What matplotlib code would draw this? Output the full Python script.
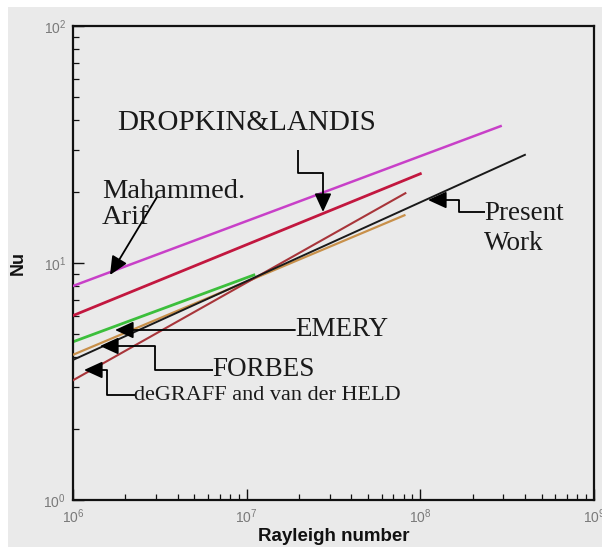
import matplotlib
matplotlib.use('Agg')
import matplotlib.pyplot as plt
from matplotlib.patches import Rectangle

# ---- data (Rayleigh number vs Nusselt number) ----
arif_ra = [1e6, 2.9e8]
arif_nu = [8.0, 37.8]
dropkin_ra = [1e6, 1.0e8]
dropkin_nu = [6.0, 23.8]
emery_ra = [1e6, 1.1e7]
emery_nu = [4.65, 8.9]
forbes_ra = [1e6, 8.1e7]
forbes_nu = [4.1, 15.9]
degraff_ra = [1e6, 8.2e7]
degraff_nu = [3.2, 19.7]
present_ra = [1e6, 4.0e8]
present_nu = [3.9, 28.6]

W, H = 602, 547
fig = plt.figure(figsize=(W / 100, H / 100), dpi=100)
fig.patch.set_facecolor('white')
fig.add_artist(Rectangle((8 / W, 0), 1, 1 - 7 / H, transform=fig.transFigure,
                         facecolor='#eaeaea', edgecolor='none', zorder=-10))

AX_L, AX_R, AX_T, AX_B = 73, 594, 26, 500
ax = fig.add_axes([AX_L / W, (H - AX_B) / H, (AX_R - AX_L) / W, (AX_B - AX_T) / H])
ax.set_facecolor('#eaeaea')
ax.set_xscale('log')
ax.set_yscale('log')
ax.set_xlim(1e6, 1e9)
ax.set_ylim(1, 100)

ax.plot(emery_ra, emery_nu, color='#3cbf3c', lw=2.0, zorder=2)
ax.plot(forbes_ra, forbes_nu, color='#c8904a', lw=1.6, zorder=3)
ax.plot(present_ra, present_nu, color='#1a1a1a', lw=1.4, zorder=4)
ax.plot(degraff_ra, degraff_nu, color='#a8353a', lw=1.5, zorder=3)
ax.plot(dropkin_ra, dropkin_nu, color='#c2173f', lw=2.0, zorder=3)
ax.plot(arif_ra, arif_nu, color='#c840c8', lw=1.8, zorder=3)

for s in ax.spines.values():
    s.set_linewidth(1.6)
    s.set_color('#111111')

ax.tick_params(which='both', direction='in', top=False, right=False,
               colors='#111111', labelcolor='#7a7a7a', labelsize=10)
ax.tick_params(which='major', length=8, width=1.0, pad=5)
ax.tick_params(which='minor', length=4, width=0.9)
for lab in ax.get_xticklabels() + ax.get_yticklabels():
    lab.set_family('Liberation Sans')

ax.set_xlabel('Rayleigh number', fontsize=13.5, fontweight='bold',
              family='Liberation Sans', color='#111111', labelpad=2)
ax.set_ylabel('Nu', fontsize=13, fontweight='bold', family='Liberation Sans',
              color='#111111', labelpad=12)


def fr(px, py):
    return ((px - AX_L) / (AX_R - AX_L), (AX_B - py) / (AX_B - AX_T))


def arrow_path(pts):
    fpts = [fr(*p) for p in pts]
    if len(fpts) > 2:
        xs = [p[0] for p in fpts[:-1]]
        ys = [p[1] for p in fpts[:-1]]
        ax.plot(xs, ys, color='black', lw=1.3, transform=ax.transAxes,
                clip_on=False, zorder=6, solid_capstyle='butt')
    ax.annotate('', xy=fpts[-1], xycoords='axes fraction',
                xytext=fpts[-2], textcoords='axes fraction',
                arrowprops=dict(arrowstyle='-|>,head_length=0.7,head_width=0.32',
                                color='black', lw=1.3, shrinkA=0, shrinkB=0,
                                mutation_scale=16),
                zorder=6)


def label(px, py, txt, size=20, ha='left'):
    ax.text(*fr(px, py), txt, transform=ax.transAxes, fontsize=size,
            family='Liberation Serif', color='#1a1a1a', ha=ha, va='center',
            zorder=7)


# annotations
label(117, 123, 'DROPKIN&LANDIS', size=21)
arrow_path([(298, 150), (298, 173), (323, 173), (323, 212)])

label(102, 192, 'Mahammed.', size=20.5)
label(102, 217, 'Arif', size=20.5)
arrow_path([(157, 197), (110, 275)])

label(484, 214, 'Present', size=19.5)
label(484, 244, 'Work', size=19.5)
arrow_path([(485, 212), (459, 212), (459, 200), (428, 200)])

label(295, 330, 'EMERY', size=19.5)
arrow_path([(295, 330), (115, 330)])

label(212, 370, 'FORBES', size=19.5)
arrow_path([(213, 370), (155, 370), (155, 346), (100, 346)])

label(134, 395, 'deGRAFF and van der HELD', size=16)
arrow_path([(135, 395), (107, 395), (107, 370), (84, 370)])

fig.savefig('out.png', dpi=100, facecolor=fig.get_facecolor())
